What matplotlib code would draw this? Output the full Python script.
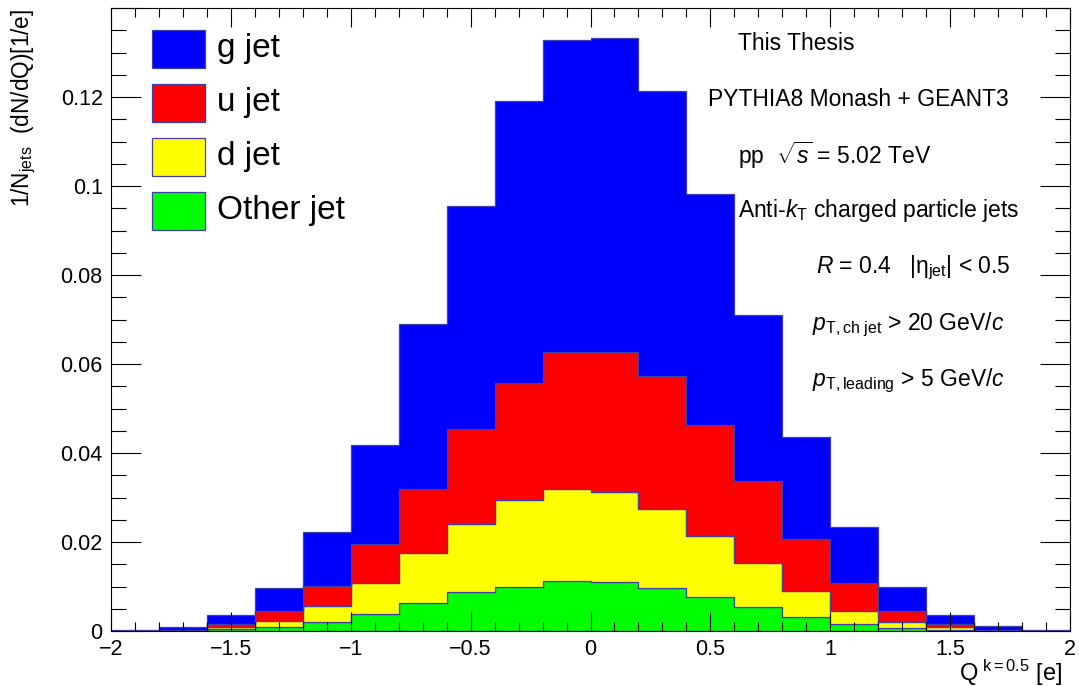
import numpy as np
import matplotlib
matplotlib.use("Agg")
import matplotlib.pyplot as plt
from matplotlib.patches import Rectangle
from matplotlib.ticker import MultipleLocator, FuncFormatter

plt.rcParams['font.family'] = ['Liberation Sans', 'DejaVu Sans']
plt.rcParams['mathtext.fontset'] = 'custom'
plt.rcParams['mathtext.rm'] = 'Liberation Sans'
plt.rcParams['mathtext.it'] = 'Liberation Sans:italic'
plt.rcParams['mathtext.bf'] = 'Liberation Sans:bold'

# jet charge bins, Q^{k=0.5} from -2 to 2
edges = np.linspace(-2.0, 2.0, 21)

# per-flavour yields, 1/N_jets dN/dQ
other_jet = [0.0000, 0.0000, 0.0004, 0.0009, 0.0020, 0.0038, 0.0062, 0.0087, 0.0100, 0.0112,
             0.0111, 0.0097, 0.0076, 0.0055, 0.0032, 0.0015, 0.0006, 0.0003, 0.0001, 0.0000]
d_jet = [0.0000, 0.0001, 0.0005, 0.0014, 0.0037, 0.0069, 0.0113, 0.0153, 0.0194, 0.0206,
         0.0201, 0.0177, 0.0137, 0.0097, 0.0059, 0.0030, 0.0015, 0.0005, 0.0001, 0.0000]
u_jet = [0.0001, 0.0001, 0.0007, 0.0022, 0.0045, 0.0089, 0.0145, 0.0213, 0.0264, 0.0308,
         0.0314, 0.0299, 0.0251, 0.0184, 0.0115, 0.0062, 0.0024, 0.0008, 0.0001, 0.0001]
g_jet = [0.0002, 0.0008, 0.0020, 0.0051, 0.0120, 0.0222, 0.0369, 0.0501, 0.0634, 0.0703,
         0.0707, 0.0641, 0.0518, 0.0375, 0.0231, 0.0126, 0.0055, 0.0020, 0.0008, 0.0002]

labels = ['g jet', 'u jet', 'd jet', 'Other jet']
colors = {'Other jet': '#00ff00', 'd jet': '#ffff00', 'u jet': '#ff0000', 'g jet': '#0000ff'}
stack_order = [('Other jet', other_jet), ('d jet', d_jet), ('u jet', u_jet), ('g jet', g_jet)]

W, H = 1079, 686
fig = plt.figure(figsize=(W / 100, H / 100), dpi=100)
ax = fig.add_axes([111 / W, 1 - 631 / H, (1070 - 111) / W, (631 - 8) / H])

line_col = '#4040a8'
bottom = np.zeros(len(edges) - 1)
for name, vals in stack_order:
    top = bottom + np.array(vals)
    ax.stairs(top, edges, baseline=bottom, fill=True, facecolor=colors[name],
              edgecolor=line_col, linewidth=0.9)
    bottom = top

ax.set_xlim(-2, 2)
ax.set_ylim(0, 0.14)

ax.xaxis.set_major_locator(MultipleLocator(0.5))
ax.xaxis.set_minor_locator(MultipleLocator(0.1))
ax.yaxis.set_major_locator(MultipleLocator(0.02))
ax.yaxis.set_minor_locator(MultipleLocator(0.005))

def tick_fmt(v, pos):
    return ('%g' % round(v, 4)).replace('-', '\u2212')

ax.xaxis.set_major_formatter(FuncFormatter(tick_fmt))
# no label on the frame edge at the top
ax.yaxis.set_major_formatter(FuncFormatter(lambda v, pos: '' if v > 0.13 else tick_fmt(v, pos)))

ax.tick_params(axis='both', which='both', direction='in', top=True, right=True,
               width=0.8, labelsize=15.5)
ax.tick_params(axis='x', which='major', length=13.5, pad=6)
ax.tick_params(axis='x', which='minor', length=6.5)
ax.tick_params(axis='y', which='major', length=21.5, pad=6)
ax.tick_params(axis='y', which='minor', length=10.8)
for sp in ax.spines.values():
    sp.set_linewidth(0.8)

# axis titles
fig.text(24 / W, 1 - 9 / H, r'1/N$_{\mathrm{jets}}$  (dN/dQ)[1/e]', rotation=90,
         ha='center', va='top', fontsize=16.3)
fig.text(1062 / W, 1 - 681 / H, r'Q$^{\ \mathrm{k=0.5}}$ [e]', ha='right',
         va='baseline', fontsize=17)

# legend
def ax_xy(px, py):
    return (px - 111) / 959, (631 - py) / 623

for i, name in enumerate(labels):
    y0 = 30 + i * 54
    x0, yb = ax_xy(152, y0 + 38)
    ax.add_patch(Rectangle((x0, yb), 53 / 959, 38 / 623, transform=ax.transAxes,
                           facecolor=colors[name], edgecolor=line_col, linewidth=0.9,
                           zorder=5))
    tx, ty = ax_xy(217, y0 + 19)
    ax.text(tx, ty, name, transform=ax.transAxes, fontsize=24, ha='left', va='center')

# physics annotations
notes = [
    (738, 44, 'This Thesis'),
    (708, 99, 'PYTHIA8 Monash + GEANT3'),
    (738, 155, r'pp  $\sqrt{s}$ = 5.02 TeV'),
    (738, 211, r'Anti-$k_{\mathrm{T}}$ charged particle jets'),
    (816, 268, r'$R$ = 0.4   |η$_{\mathrm{jet}}$| < 0.5'),
    (812, 325, r'$p_{\mathrm{T,ch\ jet}}$ > 20 GeV/$c$'),
    (812, 381, r'$p_{\mathrm{T,leading}}$ > 5 GeV/$c$'),
]
for px, py, s in notes:
    tx, ty = ax_xy(px, py)
    ax.text(tx, ty, s, transform=ax.transAxes, fontsize=16.5, ha='left', va='center')

fig.savefig('out.png', dpi=100)
